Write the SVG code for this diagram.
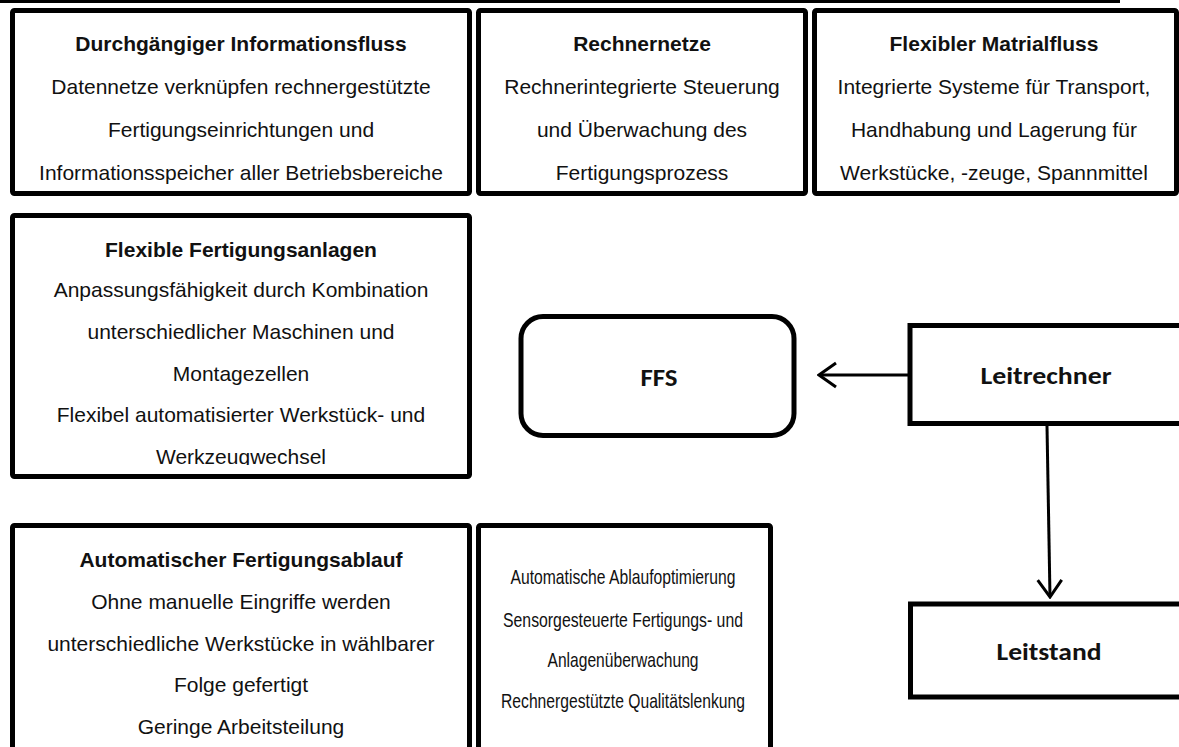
<svg xmlns="http://www.w3.org/2000/svg" width="1179" height="747" viewBox="0 0 1179 747">
<style>
.box{fill:#fff;stroke:#000;stroke-width:5}
.t{font-family:"Liberation Sans",Arial,sans-serif;font-size:21px;fill:#111;text-anchor:middle}
.b{font-weight:bold}
.c{font-family:Carlito,Calibri,Lato,sans-serif;font-weight:bold;font-size:25px;fill:#111;text-anchor:middle}
.conn{stroke:#000;stroke-width:3;fill:none}
</style>
<defs>
<marker id="chev" viewBox="-22 -15 24 30" refX="0" refY="0" markerWidth="24" markerHeight="30" markerUnits="userSpaceOnUse" orient="auto">
<path d="M-17,-12 L0,0 L-17,12" fill="none" stroke="#000" stroke-width="3"/>
</marker>
<clipPath id="clip4"><rect x="15" y="218" width="452" height="247"/></clipPath>
</defs>
<rect width="1179" height="747" fill="#fff"/>
<rect x="0" y="0" width="1120" height="3" fill="#000"/>

<g id="n-informationsfluss">
<rect class="box" x="12.5" y="10.5" width="457" height="183" rx="2"/>
<text class="t b" x="241" y="51">Durchgängiger Informationsfluss</text>
<text class="t" x="241" y="94">Datennetze verknüpfen rechnergestützte</text>
<text class="t" x="241" y="137">Fertigungseinrichtungen und</text>
<text class="t" x="241" y="180">Informationsspeicher aller Betriebsbereiche</text>
</g>

<g id="n-rechnernetze">
<rect class="box" x="478.5" y="10.5" width="327" height="183" rx="2"/>
<text class="t b" x="642" y="51">Rechnernetze</text>
<text class="t" x="642" y="94">Rechnerintegrierte Steuerung</text>
<text class="t" x="642" y="137">und Überwachung des</text>
<text class="t" x="642" y="180">Fertigungsprozess</text>
</g>

<g id="n-materialfluss">
<rect class="box" x="814.5" y="10.5" width="362" height="183" rx="2"/>
<text class="t b" x="994" y="51">Flexibler Matrialfluss</text>
<text class="t" x="994" y="94">Integrierte Systeme für Transport,</text>
<text class="t" x="994" y="137">Handhabung und Lagerung für</text>
<text class="t" x="994" y="180">Werkstücke, -zeuge, Spannmittel</text>
</g>

<g id="n-fertigungsanlagen">
<rect class="box" x="12.5" y="215.5" width="457" height="261" rx="2"/>
<g clip-path="url(#clip4)">
<text class="t b" x="241" y="257">Flexible Fertigungsanlagen</text>
<text class="t" x="241" y="297">Anpassungsfähigkeit durch Kombination</text>
<text class="t" x="241" y="339">unterschiedlicher Maschinen und</text>
<text class="t" x="241" y="381">Montagezellen</text>
<text class="t" x="241" y="422">Flexibel automatisierter Werkstück- und</text>
<text class="t" x="241" y="464">Werkzeugwechsel</text>
</g>
</g>

<g id="n-ffs">
<rect class="box" x="521" y="316.5" width="273" height="119" rx="22"/>
<text class="c" x="659" y="386" textLength="37" lengthAdjust="spacingAndGlyphs">FFS</text>
</g>

<g id="n-leitrechner">
<rect class="box" x="910" y="325.5" width="285" height="98"/>
<text class="c" x="1046" y="384" textLength="131" lengthAdjust="spacingAndGlyphs">Leitrechner</text>
</g>

<g id="n-leitstand">
<rect class="box" x="910.5" y="604" width="285" height="93"/>
<text class="c" x="1049" y="660" textLength="105" lengthAdjust="spacingAndGlyphs">Leitstand</text>
</g>

<g id="n-fertigungsablauf">
<rect class="box" x="12.5" y="525.5" width="457" height="240" rx="2"/>
<text class="t b" x="241" y="567">Automatischer Fertigungsablauf</text>
<text class="t" x="241" y="609">Ohne manuelle Eingriffe werden</text>
<text class="t" x="241" y="651">unterschiedliche Werkstücke in wählbarer</text>
<text class="t" x="241" y="692">Folge gefertigt</text>
<text class="t" x="241" y="734">Geringe Arbeitsteilung</text>
</g>

<g id="n-ablaufoptimierung">
<rect class="box" x="478.5" y="525.5" width="292" height="240" rx="2"/>
<text class="t" x="623" y="584" textLength="225" lengthAdjust="spacingAndGlyphs">Automatische Ablaufoptimierung</text>
<text class="t" x="623" y="627" textLength="240" lengthAdjust="spacingAndGlyphs">Sensorgesteuerte Fertigungs- und</text>
<text class="t" x="623" y="667" textLength="151" lengthAdjust="spacingAndGlyphs">Anlagenüberwachung</text>
<text class="t" x="623" y="708" textLength="244" lengthAdjust="spacingAndGlyphs">Rechnergestützte Qualitätslenkung</text>
</g>

<g id="connectors">
<line class="conn" x1="908" y1="375" x2="819" y2="375" marker-end="url(#chev)"/>
<line class="conn" x1="1047" y1="426" x2="1050" y2="597" marker-end="url(#chev)"/>
</g>
</svg>
